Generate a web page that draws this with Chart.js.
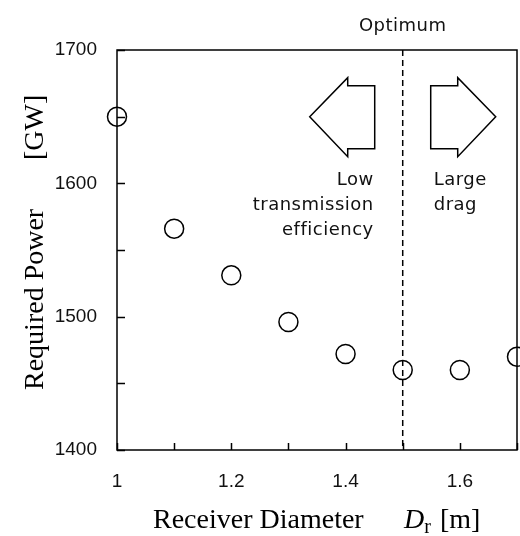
<!DOCTYPE html>
<html>
<head>
<meta charset="utf-8">
<script src="https://cdn.jsdelivr.net/npm/chart.js@4.4.0/dist/chart.umd.min.js"></script>
<style>
  html, body { margin: 0; padding: 0; background: #fff; }
</style>
</head>
<body>
<canvas id="chart" width="520" height="536"></canvas>
<script>
// data
const diameters = [1.0, 1.1, 1.2, 1.3, 1.4, 1.5, 1.6, 1.7];
const requiredPower = [1650, 1566, 1531, 1496, 1472, 1460, 1460, 1470];
const optimumDiameter = 1.5;
const xTickLabels = ["1", "1.2", "1.4", "1.6"];
const yTickLabels = ["1400", "1500", "1600", "1700"];

const tickFamily = "'Liberation Sans Narrow', 'Liberation Sans', Arial, sans-serif";
const noteFont = "18px 'DejaVu Sans', sans-serif";
const titleFont = "28px 'Liberation Serif', 'Times New Roman', serif";

// box, inward ticks, optimum line, arrows, notes and axis titles
const decorations = {
	id: "decorations",
	beforeDatasetsDraw(chart) {
		const { ctx, chartArea: a, scales } = chart;
		const xs = scales.x, ys = scales.y;
		ctx.save();
		ctx.strokeStyle = "#000";
		ctx.lineWidth = 1.5;
		ctx.strokeRect(a.left, a.top, a.right - a.left, a.bottom - a.top);

		// inward tick marks
		ctx.beginPath();
		xs.ticks.forEach((t) => {
			const px = Math.round(xs.getPixelForValue(t.value)) + 0.5;
			ctx.moveTo(px, a.bottom);
			ctx.lineTo(px, a.bottom - 7);
		});
		ys.ticks.forEach((t) => {
			const py = Math.round(ys.getPixelForValue(t.value)) + 0.5;
			ctx.moveTo(a.left, py);
			ctx.lineTo(a.left + 8, py);
		});
		ctx.stroke();

		// optimum line
		const ox = xs.getPixelForValue(optimumDiameter);
		ctx.setLineDash([6, 4]);
		ctx.beginPath();
		ctx.moveTo(ox, a.top);
		ctx.lineTo(ox, a.bottom);
		ctx.stroke();
		ctx.setLineDash([]);

		// arrows either side of the optimum
		const cy = ys.getPixelForValue(1650);
		const drawArrow = (dir) => {
			const body = ox + dir * 28, head = ox + dir * 55, tip = ox + dir * 93;
			ctx.beginPath();
			ctx.moveTo(tip, cy);
			ctx.lineTo(head, cy - 39);
			ctx.lineTo(head, cy - 31);
			ctx.lineTo(body, cy - 31);
			ctx.lineTo(body, cy + 32);
			ctx.lineTo(head, cy + 32);
			ctx.lineTo(head, cy + 40);
			ctx.closePath();
			ctx.stroke();
		};
		drawArrow(-1);
		drawArrow(1);

		// notes
		ctx.fillStyle = "#111";
		ctx.font = noteFont;
		ctx.letterSpacing = "0.5px";
		ctx.textBaseline = "middle";
		ctx.textAlign = "center";
		ctx.fillText("Optimum", ox, 26);
		ctx.textAlign = "right";
		["Low", "transmission", "efficiency"].forEach((s, i) => {
			ctx.fillText(s, ox - 29, 180 + i * 25);
		});
		ctx.textAlign = "left";
		["Large", "drag"].forEach((s, i) => {
			ctx.fillText(s, ox + 31, 180 + i * 25);
		});
		ctx.restore();
	},
	afterDraw(chart) {
		const { ctx } = chart;
		ctx.save();
		ctx.fillStyle = "#000";
		ctx.font = titleFont;
		ctx.textBaseline = "alphabetic";

		// y title, rotated
		ctx.translate(43, 390);
		ctx.rotate(-Math.PI / 2);
		ctx.textAlign = "left";
		ctx.fillText("Required Power", 0, 0);
		ctx.fillText("[GW]", 230, 0);
		ctx.restore();

		// x title with italic D and subscript r
		ctx.save();
		ctx.fillStyle = "#000";
		ctx.textBaseline = "alphabetic";
		const base = 528;
		ctx.font = titleFont;
		ctx.fillText("Receiver Diameter", 153, base);
		let x = 404;
		ctx.font = "italic " + titleFont;
		ctx.fillText("D", x, base);
		x += ctx.measureText("D").width;
		ctx.font = "20px 'Liberation Serif', 'Times New Roman', serif";
		ctx.fillText("r", x, base + 5);
		x += ctx.measureText("r").width + 9;
		ctx.font = titleFont;
		ctx.fillText("[m]", x, base);
		ctx.restore();
	},
};

const ctx = document.getElementById("chart").getContext("2d");
new Chart(ctx, {
	type: "scatter",
	data: {
		datasets: [
			{
				data: diameters.map((d, i) => ({ x: d, y: requiredPower[i] })),
				pointStyle: "circle",
				pointRadius: 9.5,
				pointHoverRadius: 9.5,
				borderWidth: 1.5,
				borderColor: "#000",
				backgroundColor: "rgba(0,0,0,0)",
				clip: false,
			},
		],
	},
	options: {
		responsive: false,
		animation: false,
		devicePixelRatio: 1,
		layout: { autoPadding: false, padding: { top: 50, right: 3, left: 0, bottom: 0 } },
		plugins: {
			legend: { display: false },
			tooltip: { enabled: false },
		},
		scales: {
			x: {
				type: "linear",
				min: 1,
				max: 1.7,
				grid: { display: false, drawTicks: false },
				border: { display: false },
				ticks: {
					stepSize: 0.1,
					padding: 20,
					color: "#111",
					font: { family: tickFamily, size: 19 },
					autoSkip: false,
					maxRotation: 0,
					callback: (v) => {
						const s = Math.abs(v - 1) < 1e-9 ? "1" : (Math.round(v * 10) / 10).toFixed(1);
						return xTickLabels.includes(s) ? s : "";
					},
				},
				afterFit: (s) => {
					s.height = 86;
					s.paddingLeft = 0;
					s.paddingRight = 0;
				},
			},
			y: {
				min: 1400,
				max: 1700,
				grid: { display: false, drawTicks: false },
				border: { display: false },
				ticks: {
					stepSize: 50,
					padding: 20,
					color: "#111",
					font: { family: tickFamily, size: 19 },
					callback: (v) => (yTickLabels.includes(String(v)) ? String(v) : ""),
				},
				afterFit: (s) => {
					s.width = 117;
					s.paddingTop = 0;
					s.paddingBottom = 0;
				},
			},
		},
	},
	plugins: [decorations],
});
</script>
</body>
</html>
